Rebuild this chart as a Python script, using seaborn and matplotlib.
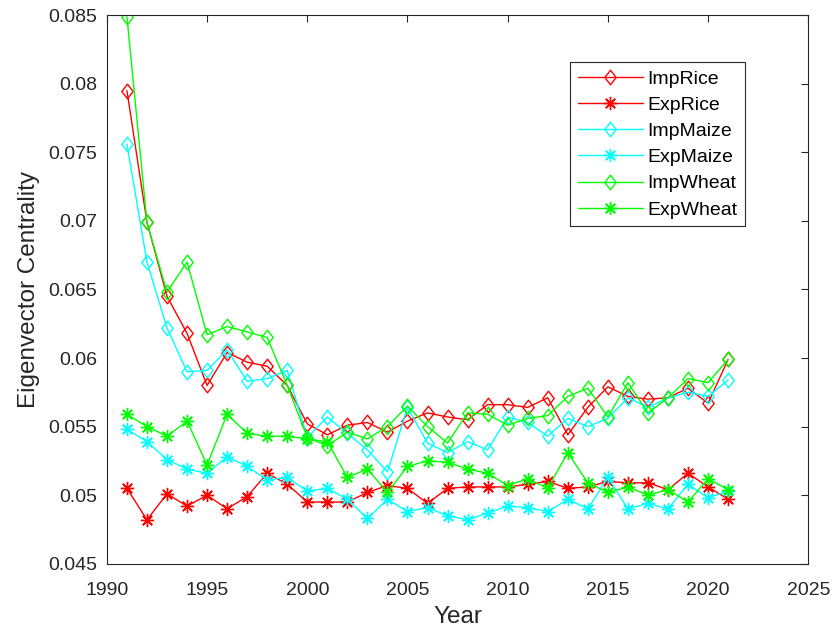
import numpy as np
import pandas as pd
import matplotlib
matplotlib.use("Agg")
import matplotlib.pyplot as plt
from matplotlib.path import Path
from matplotlib.ticker import FuncFormatter, MultipleLocator
import seaborn as sns

years = list(range(1991, 2022))

imp_rice = [0.0795, 0.0699, 0.0645, 0.0618, 0.0580, 0.0604, 0.0597, 0.0594, 0.0580, 0.0552,
            0.0544, 0.0551, 0.0553, 0.0546, 0.0554, 0.0560, 0.0557, 0.0555, 0.0566, 0.0566,
            0.0564, 0.0571, 0.0544, 0.0564, 0.0579, 0.0572, 0.0570, 0.0571, 0.0578, 0.0567,
            0.0599]
exp_rice = [0.0505, 0.0482, 0.0501, 0.0492, 0.0500, 0.0490, 0.0499, 0.0516, 0.0508, 0.0495,
            0.0495, 0.0495, 0.0502, 0.0507, 0.0505, 0.0494, 0.0505, 0.0506, 0.0506, 0.0506,
            0.0508, 0.0510, 0.0505, 0.0506, 0.0510, 0.0509, 0.0509, 0.0504, 0.0516, 0.0506,
            0.0497]
imp_maize = [0.0756, 0.0670, 0.0622, 0.0590, 0.0591, 0.0606, 0.0583, 0.0585, 0.0591, 0.0542,
             0.0557, 0.0545, 0.0533, 0.0517, 0.0564, 0.0538, 0.0531, 0.0539, 0.0533, 0.0557,
             0.0553, 0.0543, 0.0556, 0.0550, 0.0556, 0.0571, 0.0564, 0.0571, 0.0575, 0.0572,
             0.0584]
exp_maize = [0.0548, 0.0539, 0.0526, 0.0519, 0.0516, 0.0528, 0.0521, 0.0511, 0.0513, 0.0503,
             0.0505, 0.0497, 0.0483, 0.0497, 0.0488, 0.0491, 0.0485, 0.0482, 0.0487, 0.0492,
             0.0491, 0.0488, 0.0497, 0.0490, 0.0513, 0.0490, 0.0494, 0.0490, 0.0508, 0.0498,
             0.0503]
imp_wheat = [0.0849, 0.0699, 0.0648, 0.0670, 0.0617, 0.0623, 0.0619, 0.0615, 0.0580, 0.0542,
             0.0536, 0.0546, 0.0541, 0.0550, 0.0565, 0.0550, 0.0538, 0.0560, 0.0559, 0.0551,
             0.0556, 0.0558, 0.0572, 0.0578, 0.0557, 0.0582, 0.0560, 0.0571, 0.0585, 0.0582,
             0.0599]
exp_wheat = [0.0559, 0.0550, 0.0543, 0.0554, 0.0522, 0.0559, 0.0545, 0.0543, 0.0543, 0.0541,
             0.0539, 0.0513, 0.0519, 0.0502, 0.0521, 0.0525, 0.0524, 0.0519, 0.0516, 0.0507,
             0.0512, 0.0505, 0.0531, 0.0509, 0.0502, 0.0506, 0.0500, 0.0504, 0.0495, 0.0512,
             0.0504]

series_names = ["ImpRice", "ExpRice", "ImpMaize", "ExpMaize", "ImpWheat", "ExpWheat"]
series_values = [imp_rice, exp_rice, imp_maize, exp_maize, imp_wheat, exp_wheat]

sns.set_theme(style="white")
plt.rcParams["font.family"] = ["Liberation Sans", "DejaVu Sans"]

axis_gray = (0.15, 0.15, 0.15)
colors = {"Rice": "#ff0000", "Maize": "#00ffff", "Wheat": "#00ff00"}

# open diamond, slightly taller than wide
diamond = Path([(0, 1), (0.78, 0), (0, -1), (-0.78, 0), (0, 1)],
               [Path.MOVETO, Path.LINETO, Path.LINETO, Path.LINETO, Path.CLOSEPOLY])
# eight-armed asterisk
asterisk = (8, 2, 0)

fig = plt.figure(figsize=(8.35, 6.32), dpi=100)
ax = fig.add_axes([0.128, 0.108, 0.840, 0.868])

for name, vals in zip(series_names, series_values):
    crop = name[3:]
    df = pd.DataFrame({"Year": years, "Value": vals})
    if name.startswith("Imp"):
        mk = dict(marker=diamond, markersize=10.5, markerfacecolor="none",
                  markeredgewidth=1.0)
    else:
        mk = dict(marker=asterisk, markersize=9.5, markeredgewidth=1.0)
    sns.lineplot(data=df, x="Year", y="Value", ax=ax, color=colors[crop],
                 linewidth=1.0, label=name, markeredgecolor=colors[crop], **mk)

ax.set_xlim(1990, 2025)
ax.set_ylim(0.045, 0.085)
ax.xaxis.set_major_locator(MultipleLocator(5))
ax.yaxis.set_major_locator(MultipleLocator(0.005))
ax.yaxis.set_major_formatter(FuncFormatter(lambda v, p: "%g" % round(v, 4)))

ax.tick_params(direction="in", top=True, right=True, length=5, width=0.8,
               colors=axis_gray, labelsize=14, labelcolor=axis_gray)
ax.tick_params(axis="x", pad=13)
ax.tick_params(axis="y", pad=7)
for s in ax.spines.values():
    s.set_visible(True)
    s.set_color(axis_gray)
    s.set_linewidth(0.8)

ax.set_xlabel("Year", fontsize=17.5, color=axis_gray, labelpad=5)
ax.set_ylabel("Eigenvector Centrality", fontsize=17.5, color=axis_gray, labelpad=6)

leg = ax.legend(loc="upper left", bbox_to_anchor=(0.660, 0.914), fontsize=14,
                frameon=True, fancybox=False, edgecolor=axis_gray, framealpha=1,
                handlelength=3.35, handletextpad=0.25, borderpad=0.4, labelspacing=0.44,
                borderaxespad=0)
leg.get_frame().set_linewidth(0.8)
for t in leg.get_texts():
    t.set_color("black")

fig.savefig("out.png", dpi=100)
